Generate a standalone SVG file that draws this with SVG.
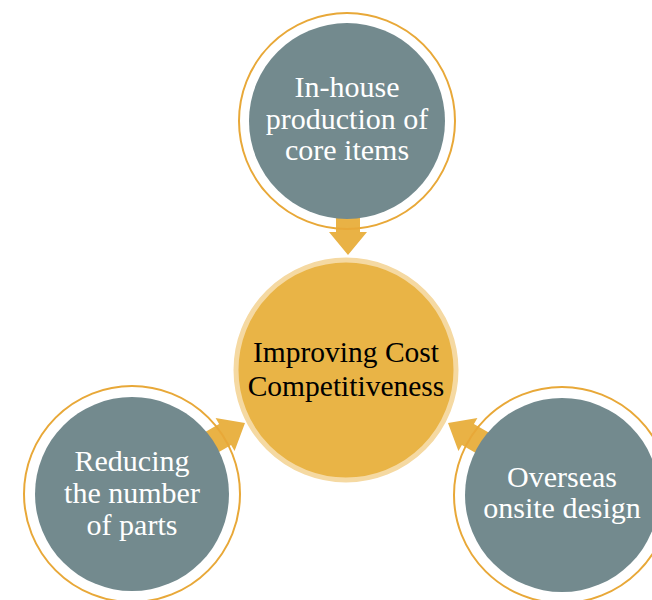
<svg xmlns="http://www.w3.org/2000/svg" width="652" height="600" viewBox="0 0 652 600">
<style>
.arrow{fill:#E9B245}
.ring{fill:none;stroke:#E8A838;stroke-width:2}
.node{fill:#738A8E}
.lbl{font-family:"Liberation Serif",serif;font-size:30px;fill:#FFFFFF;text-anchor:middle}
.clbl{font-family:"Liberation Serif",serif;font-size:29.5px;fill:#000000;text-anchor:middle}
</style>
<defs>
<path id="arr" d="M0,0 L-23,-19 L-23,-12 L-60,-12 L-60,12 L-23,12 L-23,19 Z"/>
</defs>
<rect width="652" height="600" fill="#FFFFFF"/>
<g id="connectors">
<use href="#arr" class="arrow" transform="translate(348,255) rotate(90)"/>
<use href="#arr" class="arrow" transform="translate(245,423) rotate(-30)"/>
<use href="#arr" class="arrow" transform="translate(448,423) rotate(210)"/>
</g>
<g id="center">
<circle cx="346" cy="370" r="110" fill="#E9B446" stroke="#F5D9A2" stroke-width="5"/>
<text class="clbl" x="346" y="362">Improving Cost</text>
<text class="clbl" x="346" y="396">Competitiveness</text>
</g>
<g id="top">
<circle class="ring" cx="347" cy="121" r="108"/>
<circle class="node" cx="347" cy="121" r="98"/>
<text class="lbl" x="347" y="97">In-house</text>
<text class="lbl" x="347" y="129">production of</text>
<text class="lbl" x="347" y="160">core items</text>
</g>
<g id="left">
<circle class="ring" cx="132" cy="494" r="108"/>
<circle class="node" cx="132" cy="494" r="97"/>
<text class="lbl" x="132" y="471">Reducing</text>
<text class="lbl" x="132" y="503">the number</text>
<text class="lbl" x="132" y="535">of parts</text>
</g>
<g id="right">
<circle class="ring" cx="562" cy="495" r="108"/>
<circle class="node" cx="562" cy="495" r="97"/>
<text class="lbl" x="562" y="487">Overseas</text>
<text class="lbl" x="562" y="518">onsite design</text>
</g>
</svg>
